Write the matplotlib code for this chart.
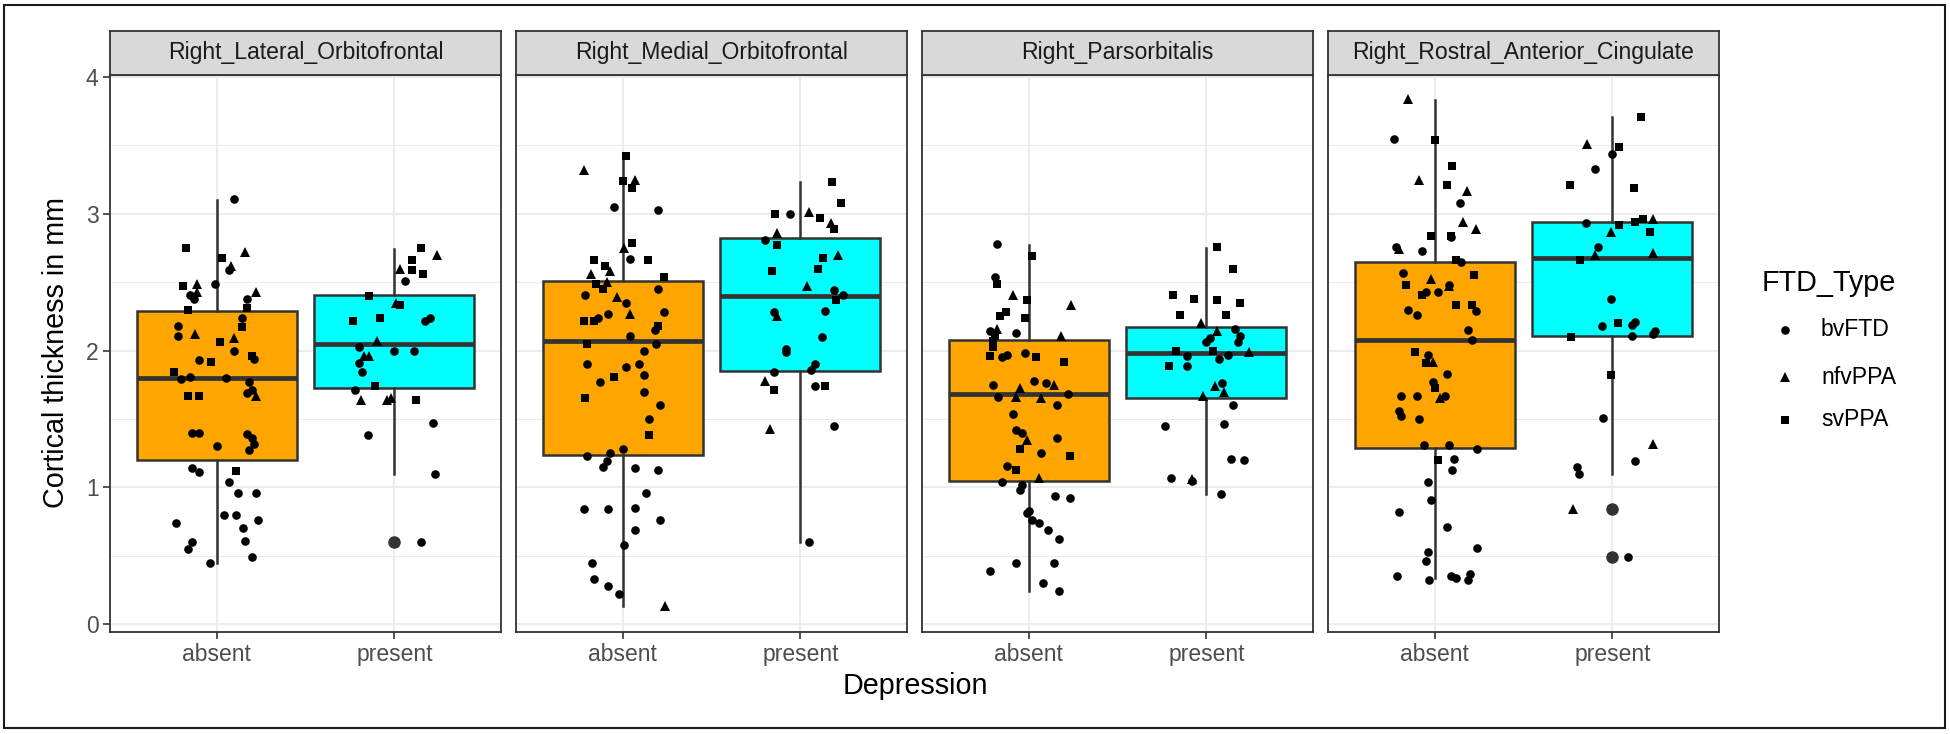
import matplotlib
matplotlib.use("Agg")
import matplotlib.pyplot as plt
from matplotlib.patches import Rectangle

plt.rcParams['font.family'] = ['Liberation Sans', 'DejaVu Sans']

# ---------------- data ----------------
regions = ["Right_Lateral_Orbitofrontal", "Right_Medial_Orbitofrontal",
           "Right_Parsorbitalis", "Right_Rostral_Anterior_Cingulate"]
depression_levels = ["absent", "present"]
ftd_types = ["bvFTD", "nfvPPA", "svPPA"]
type_codes = {"b": "bvFTD", "n": "nfvPPA", "s": "svPPA"}

# box statistics per region: [absent, present]
box_q1 = [[1.20, 1.73], [1.24, 1.85], [1.05, 1.65], [1.29, 2.11]]
box_med = [[1.80, 2.05], [2.07, 2.40], [1.68, 1.98], [2.08, 2.68]]
box_q3 = [[2.29, 2.41], [2.51, 2.82], [2.075, 2.176], [2.65, 2.94]]
box_lo = [[0.445, 1.10], [0.13, 0.60], [0.244, 0.95], [0.336, 1.10]]
box_hi = [[3.10, 2.745], [3.42, 3.23], [2.77, 2.75], [3.83, 3.71]]
box_out = [[[], [0.60]], [[], []], [[], []], [[], [0.84, 0.49]]]

# jittered observations (value, horizontal jitter, FTD type code)
p1_abs_val = [3.11, 2.75, 2.72, 2.68, 2.62, 2.59, 2.47, 2.49, 2.49, 2.41, 2.43, 2.38, 2.43, 2.38, 2.30, 2.31,
              2.24, 2.18, 2.17, 2.11, 2.12, 2.06, 2.09, 2.00, 1.96, 1.94, 1.93, 1.92, 1.84, 1.79, 1.81, 1.80,
              1.77, 1.67, 1.67, 1.69, 1.71, 1.67, 1.40, 1.40, 1.39, 1.36, 1.32, 1.30, 1.27, 1.14, 1.11, 1.12,
              1.04, 0.96, 0.96, 0.80, 0.80, 0.76, 0.74, 0.70, 0.60, 0.55, 0.61, 0.49, 0.445]
p1_abs_dx = [0.10, -0.17, 0.16, 0.03, 0.08, 0.07, -0.19, -0.11, -0.01, -0.15, -0.11, -0.13, 0.22, 0.17, -0.16, 0.17,
             0.14, -0.22, 0.14, -0.22, -0.12, 0.02, 0.10, 0.10, 0.20, 0.21, -0.10, -0.03, -0.24, -0.20, -0.15, 0.05,
             0.18, -0.16, -0.10, 0.17, 0.20, 0.22, -0.14, -0.10, 0.17, 0.20, 0.21, 0.00, 0.18, -0.14, -0.10, 0.11,
             0.07, 0.12, 0.22, 0.04, 0.11, 0.23, -0.23, 0.15, -0.14, -0.16, 0.16, 0.20, -0.04]
p1_abs_type = list("bsnsnbsnbbnbnbssbbsbnsnbsbbssbbbbssbbn" + "b" * 9 + "s" + "b" * 13)

p1_pre_val = [2.75, 2.70, 2.66, 2.60, 2.59, 2.56, 2.51, 2.40, 2.35, 2.33, 2.22, 2.24, 2.22, 2.24, 2.07, 2.03,
              2.00, 2.00, 1.96, 1.96, 1.91, 1.84, 1.74, 1.71, 1.64, 1.64, 1.65, 1.64, 1.47, 1.38, 1.10, 0.60]
p1_pre_dx = [0.15, 0.24, 0.10, 0.03, 0.10, 0.16, 0.06, -0.14, 0.01, 0.03, -0.23, -0.08, 0.17, 0.20, -0.10, -0.20,
             0.00, 0.11, -0.17, -0.14, -0.20, -0.18, -0.11, -0.22, -0.19, -0.04, -0.02, 0.12, 0.22, -0.15, 0.23, 0.15]
p1_pre_type = list("snsnssbsnsssbbnbbbnnbbsbnnnsbbbb")

p2_abs_val = [3.42, 3.32, 3.24, 3.25, 3.19, 3.05, 3.03, 2.79, 2.75, 2.67, 2.66, 2.66, 2.62, 2.58, 2.56, 2.54,
              2.49, 2.50, 2.45, 2.41, 2.45, 2.39, 2.35, 2.28, 2.27, 2.27, 2.22, 2.22, 2.24, 2.18, 2.15, 2.11,
              2.05, 2.05, 2.00, 1.90, 1.88, 1.90, 1.81, 1.82, 1.77, 1.70, 1.65, 1.60, 1.50, 1.38, 1.28, 1.23,
              1.25, 1.19, 1.15, 1.14, 1.13, 0.96, 0.84, 0.84, 0.85, 0.76, 0.69, 0.58, 0.45, 0.33, 0.28, 0.22, 0.13]
p2_abs_dx = [0.02, -0.22, 0.00, 0.07, 0.05, -0.05, 0.20, 0.05, 0.01, 0.04, -0.16, 0.14, -0.10, -0.07, -0.18, 0.23,
             -0.15, -0.09, -0.11, -0.21, 0.20, -0.03, 0.02, 0.23, -0.08, 0.04, -0.22, -0.16, -0.14, 0.20, 0.18, 0.04,
             -0.20, 0.19, 0.12, -0.20, 0.02, 0.09, -0.05, 0.12, -0.13, 0.12, -0.21, 0.21, 0.15, 0.15, 0.00, -0.20,
             -0.07, -0.09, -0.11, 0.07, 0.20, 0.13, -0.22, -0.08, 0.07, 0.21, 0.07, 0.01, -0.17, -0.16, -0.08, -0.02, 0.24]
p2_abs_type = list("snsnsbbsnbsssnnssnsbbnbbbnssbsbbsbbbbbsbbbsbbs" + "b" * 18 + "n")

p2_pre_val = [3.23, 3.08, 3.00, 3.00, 3.01, 2.97, 2.93, 2.89, 2.86, 2.81, 2.77, 2.68, 2.70, 2.58, 2.60, 2.47,
              2.44, 2.41, 2.37, 2.29, 2.28, 2.25, 2.10, 2.01, 1.99, 1.90, 1.86, 1.84, 1.78, 1.71, 1.74, 1.74,
              1.43, 1.45, 0.60]
p2_pre_dx = [0.18, 0.23, -0.14, -0.06, 0.05, 0.11, 0.17, 0.19, -0.13, -0.20, -0.13, 0.13, 0.21, -0.16, 0.10, 0.04,
             0.19, 0.24, 0.20, 0.14, -0.15, -0.13, 0.12, -0.08, -0.08, 0.08, 0.06, -0.15, -0.20, -0.15, 0.08, 0.14,
             -0.17, 0.19, 0.05]
p2_pre_type = list("sssbnsnsnbssnssnbbsbbnbbbbbbnsbsnbb")

p3_abs_val = [2.78, 2.69, 2.54, 2.49, 2.41, 2.37, 2.33, 2.28, 2.25, 2.24, 2.14, 2.16, 2.11, 2.13, 2.11, 2.07,
              2.03, 1.96, 1.95, 1.97, 1.98, 1.95, 1.92, 1.75, 1.78, 1.76, 1.75, 1.73, 1.66, 1.66, 1.65, 1.68,
              1.60, 1.54, 1.42, 1.40, 1.35, 1.36, 1.28, 1.25, 1.23, 1.16, 1.13, 1.07, 1.04, 1.02, 0.98, 0.94,
              0.92, 0.83, 0.81, 0.76, 0.74, 0.69, 0.62, 0.45, 0.45, 0.39, 0.30, 0.24]
p3_abs_dx = [-0.18, 0.02, -0.19, -0.18, -0.09, -0.01, 0.24, -0.13, -0.16, -0.02, -0.22, -0.18, -0.19, -0.07, 0.18, -0.20,
             -0.20, -0.22, -0.15, -0.12, -0.02, 0.04, 0.20, -0.20, 0.03, 0.10, 0.14, -0.05, -0.17, -0.07, 0.07, 0.22,
             0.16, -0.09, -0.07, -0.04, -0.01, 0.16, -0.05, 0.07, 0.23, -0.12, -0.07, 0.06, -0.15, -0.04, -0.05, 0.15,
             0.23, 0.00, -0.01, 0.02, 0.06, 0.11, 0.17, -0.07, 0.14, -0.22, 0.08, 0.17]
p3_abs_type = list("bsbsnsnsssbnsbnsssbbbssbbbnnbnnbbbbbnbsbsbsn" + "b" * 16)

p3_pre_val = [2.76, 2.60, 2.41, 2.38, 2.37, 2.35, 2.26, 2.26, 2.20, 2.16, 2.14, 2.11, 2.09, 2.06, 2.06, 2.00,
              2.00, 1.99, 1.96, 1.97, 1.94, 1.89, 1.89, 1.74, 1.76, 1.70, 1.67, 1.60, 1.45, 1.46, 1.21, 1.20,
              1.07, 1.06, 1.05, 0.95]
p3_pre_dx = [0.06, 0.15, -0.19, -0.07, 0.06, 0.19, -0.15, 0.11, -0.03, 0.16, 0.06, 0.19, 0.02, 0.00, 0.18, -0.17,
             0.04, 0.24, -0.11, 0.12, 0.07, -0.21, -0.11, 0.05, 0.09, 0.10, -0.02, 0.15, -0.23, 0.10, 0.14, 0.21,
             -0.20, -0.08, -0.08, 0.08]
p3_pre_type = list("ssssssssnbnbbbbssnbbbsbnbnnbbbbbbnbb")

p4_abs_val = [3.84, 3.55, 3.54, 3.35, 3.25, 3.21, 3.17, 3.08, 2.94, 2.89, 2.84, 2.84, 2.83, 2.76, 2.74, 2.73,
              2.66, 2.65, 2.57, 2.52, 2.55, 2.48, 2.47, 2.48, 2.41, 2.43, 2.43, 2.33, 2.33, 2.29, 2.30, 2.26,
              2.15, 2.08, 1.99, 1.97, 1.91, 1.92, 1.83, 1.77, 1.73, 1.67, 1.67, 1.67, 1.65, 1.56, 1.52, 1.50,
              1.31, 1.31, 1.28, 1.20, 1.21, 1.13, 1.04, 0.91, 0.82, 0.71, 0.56, 0.53, 0.46, 0.35, 0.32, 0.35,
              0.34, 0.37, 0.32]
p4_abs_dx = [-0.15, -0.23, 0.00, 0.10, -0.09, 0.07, 0.18, 0.14, 0.16, 0.23, -0.02, 0.09, 0.09, -0.22, -0.20, -0.07,
             0.12, 0.15, -0.18, -0.02, 0.22, -0.16, 0.08, 0.08, -0.07, -0.05, 0.02, 0.12, 0.21, 0.23, -0.15, -0.10,
             0.19, 0.21, -0.11, -0.04, -0.05, -0.01, 0.07, -0.01, 0.00, -0.19, -0.10, 0.06, 0.03, -0.20, -0.19, -0.09,
             -0.06, 0.08, 0.24, 0.02, 0.11, 0.10, -0.04, -0.02, -0.20, 0.07, 0.24, -0.04, -0.05, -0.21, -0.03, 0.09,
             0.12, 0.20, 0.19]
p4_abs_type = list("nbssnsnbnnssbbnbsbbnssnbsbbssbbbbbsbsnbbsbbbnbbbbbbs" + "b" * 15)

p4_pre_val = [3.71, 3.51, 3.49, 3.44, 3.33, 3.21, 3.19, 2.96, 2.96, 2.94, 2.93, 2.92, 2.87, 2.87, 2.76, 2.70,
              2.71, 2.66, 2.38, 2.18, 2.20, 2.19, 2.21, 2.10, 2.11, 2.12, 2.14, 1.82, 1.51, 1.32, 1.19, 1.15,
              1.10, 0.84, 0.49]
p4_pre_dx = [0.16, -0.14, 0.04, 0.00, -0.10, -0.24, 0.12, 0.23, 0.17, 0.13, -0.15, 0.04, -0.01, 0.21, -0.08, -0.10,
             0.23, -0.18, -0.01, -0.06, 0.03, 0.11, 0.13, -0.23, 0.11, 0.23, 0.24, -0.01, -0.05, 0.23, 0.13, -0.20,
             -0.19, -0.22, 0.09]
p4_pre_type = list("snsbbssnssbsnsbnnsbbsbbsbbbsbnbbbnb")

groups = [
    [(p1_abs_val, p1_abs_dx, p1_abs_type), (p1_pre_val, p1_pre_dx, p1_pre_type)],
    [(p2_abs_val, p2_abs_dx, p2_abs_type), (p2_pre_val, p2_pre_dx, p2_pre_type)],
    [(p3_abs_val, p3_abs_dx, p3_abs_type), (p3_pre_val, p3_pre_dx, p3_pre_type)],
    [(p4_abs_val, p4_abs_dx, p4_abs_type), (p4_pre_val, p4_pre_dx, p4_pre_type)],
]

# ---------------- style ----------------
box_colors = ["#FFA500", "#00FFFF"]
marker_style = {"bvFTD": dict(marker="o", ms=6.2),
                "nfvPPA": dict(marker="^", ms=7.0),
                "svPPA": dict(marker="s", ms=5.6)}
dark = "#333333"

W, H = 1950, 734
fig = plt.figure(figsize=(W / 100, H / 100), dpi=100)
fig.patch.set_facecolor("white")

panel_left = [110, 516, 922, 1328]
panel_w = 391
panel_top, panel_bot = 75, 631.7
strip_top = 31

for i, region in enumerate(regions):
    L = panel_left[i]
    ax = fig.add_axes([L / W, (H - panel_bot) / H, panel_w / W, (panel_bot - panel_top) / H])
    sax = fig.add_axes([L / W, (H - panel_top) / H, panel_w / W, (panel_top - strip_top) / H])

    # strip
    sax.set_facecolor("#D9D9D9")
    sax.set_xticks([]); sax.set_yticks([])
    for sp in sax.spines.values():
        sp.set_color(dark); sp.set_linewidth(1.3)
    sax.text(0.5, 0.5, region, transform=sax.transAxes, ha="center", va="center",
             fontsize=16.6, color="#1A1A1A")

    # panel
    ax.set_xlim(0.4, 2.6)
    ax.set_ylim(-0.055, 4.015)
    ax.set_facecolor("white")
    ax.set_yticks([0, 1, 2, 3, 4])
    ax.set_yticks([0.5, 1.5, 2.5, 3.5], minor=True)
    ax.set_xticks([1, 2])
    ax.set_xticklabels(depression_levels)
    ax.grid(which="major", color="#EBEBEB", linewidth=1.3)
    ax.grid(which="minor", axis="y", color="#EBEBEB", linewidth=0.7)
    ax.set_axisbelow(True)
    for sp in ax.spines.values():
        sp.set_color(dark); sp.set_linewidth(1.3)
    ax.tick_params(which="major", direction="out", length=5.2, width=1.2, color=dark,
                   labelcolor="#4D4D4D", labelsize=16.5, pad=3)
    ax.tick_params(which="minor", length=0)
    if i > 0:
        ax.tick_params(axis="y", left=False, labelleft=False)

    stats = []
    for j in range(2):
        stats.append(dict(med=box_med[i][j], q1=box_q1[i][j], q3=box_q3[i][j],
                          whislo=box_lo[i][j], whishi=box_hi[i][j], fliers=box_out[i][j]))
    bp = ax.bxp(stats, positions=[1, 2], widths=0.9, patch_artist=True, showcaps=False,
                boxprops=dict(edgecolor=dark, linewidth=1.8),
                medianprops=dict(color=dark, linewidth=3.4, solid_capstyle="butt"),
                whiskerprops=dict(color=dark, linewidth=1.8),
                flierprops=dict(marker="o", markerfacecolor=dark, markeredgecolor=dark,
                                markersize=8, linestyle="none"),
                manage_ticks=False)
    for j, patch in enumerate(bp["boxes"]):
        patch.set_facecolor(box_colors[j])
        patch.set_zorder(2)
    for ln in bp["medians"]:
        ln.set_zorder(2.5)

    for j in range(2):
        vals, dxs, types = groups[i][j]
        for ft in ftd_types:
            xs = [j + 1 + dx for v, dx, t in zip(vals, dxs, types) if type_codes[t] == ft]
            ys = [v for v, dx, t in zip(vals, dxs, types) if type_codes[t] == ft]
            ax.plot(xs, ys, linestyle="none", color="black", markeredgewidth=0,
                    zorder=4, **marker_style[ft])

# overlay for titles, legend and outer border (pixel coordinates)
lax = fig.add_axes([0, 0, 1, 1])
lax.set_xlim(0, W)
lax.set_ylim(H, 0)
lax.axis("off")
lax.patch.set_alpha(0)

lax.text(56, 353, "Cortical thickness in mm", rotation=90, ha="center", va="center",
         fontsize=20.7, color="black")
lax.text(915, 686, "Depression", ha="center", va="center", fontsize=20.7, color="black")

lax.text(1762, 283, "FTD_Type", ha="left", va="center", fontsize=20.7, color="black")
legend_y = [330, 377, 420]
for ft, yy in zip(ftd_types, legend_y):
    lax.plot([1785], [yy], linestyle="none", color="black", markeredgewidth=0, **marker_style[ft])
    lax.text(1821, yy, ft, ha="left", va="center", fontsize=16.6, color="black")

lax.add_patch(Rectangle((4, 5), 1941, 723, fill=False, edgecolor="#1A1A1A", linewidth=1.5))

fig.savefig("out.png", dpi=100, facecolor="white")
